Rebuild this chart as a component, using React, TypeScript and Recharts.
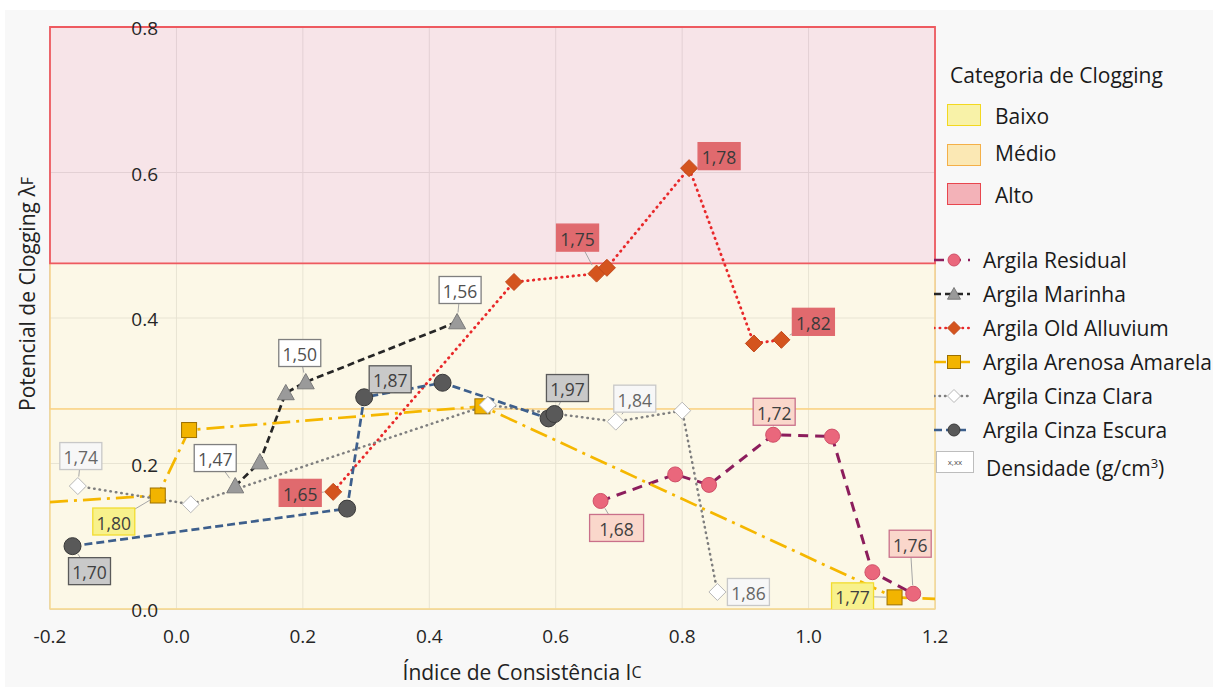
import React from 'react';
import { ComposedChart, Line, XAxis, YAxis, CartesianGrid, ReferenceArea } from 'recharts';

const FONT = '"Open Sans", "Noto Sans", sans-serif';
const W = 1213;
const H = 687;

const xTicks = [-0.2, 0, 0.2, 0.4, 0.6, 0.8, 1.0, 1.2];
const yTicks = [0, 0.2, 0.4, 0.6, 0.8];

// clogging categories (bands)
const categoryNames = ['Baixo', 'Médio', 'Alto'];
const categoryFrom = [0, 0.275, 0.475];
const categoryTo = [0.275, 0.475, 0.8];

// Argila Residual
const residualX = [0.671, 0.789, 0.8425, 0.944, 1.037, 1.101, 1.1655];
const residualY = [0.1485, 0.185, 0.1706, 0.2395, 0.237, 0.0506, 0.021];
const residualDens = ['1,68', null, null, '1,72', null, null, '1,76'];

// Argila Marinha
const marinhaX = [0.093, 0.132, 0.173, 0.2046, 0.444];
const marinhaY = [0.169, 0.202, 0.297, 0.312, 0.3945];
const marinhaDens = ['1,47', null, null, '1,50', '1,56'];

// Argila Old Alluvium
const alluviumX = [0.248, 0.534, 0.6646, 0.681, 0.811, 0.9135, 0.957];
const alluviumY = [0.161, 0.4495, 0.461, 0.469, 0.606, 0.365, 0.37];
const alluviumDens = ['1,65', null, '1,75', null, '1,78', null, '1,82'];

// Argila Arenosa Amarela (line runs to both plot edges)
const arenosaX = [-0.2, -0.0295, 0.02, 0.484, 1.136, 1.2];
const arenosaY = [0.147, 0.156, 0.246, 0.2786, 0.016, 0.014];
const arenosaDens = [null, '1,80', null, null, '1,77', null];

// Argila Cinza Clara
const claraX = [-0.156, 0.0226, 0.4926, 0.695, 0.8, 0.8558];
const claraY = [0.169, 0.144, 0.2805, 0.2575, 0.2726, 0.0234];
const claraDens = ['1,74', null, null, '1,84', null, '1,86'];

// Argila Cinza Escura
const escuraX = [-0.1644, 0.27, 0.297, 0.421, 0.5887, 0.598];
const escuraY = [0.0864, 0.138, 0.291, 0.311, 0.262, 0.268];
const escuraDens = ['1,70', null, '1,87', null, null, '1,97'];

// label box offsets from the point, in px: [dx, dy, width]
const residualOff = [[16, 27, 54], null, null, [1, -23], null, null, [-3, -50]];
const marinhaOff = [[-20, -28], null, null, [-6, -29], [3, -32]];
const alluviumOff = [[-33, 1], null, [-19, -36], null, [30, -12], null, [32, -18]];
const arenosaOff = [null, [-44, 26], null, null, [-42, -1], null];
const claraOff = [[3, -30], null, null, [19, -23], null, [31, 0]];
const escuraOff = [[17, 25], null, [26, -18], null, null, [13, -26]];

type Kind = 'circle' | 'triangle' | 'diamond' | 'square';

const zip = (xs: number[], ys: number[]) => xs.map((x, i) => ({ x, y: ys[i] }));

const series = [
  {
    name: 'Argila Residual', data: zip(residualX, residualY), dens: residualDens, off: residualOff,
    line: '#8c1d5c', dash: '10 7', cap: 'butt', width: 3, kind: 'circle' as Kind, size: 7.5,
    fill: '#ea677c', stroke: '#cf4f68', boxFill: '#fad7cb', boxStroke: '#c9708a', text: '#404040',
  },
  {
    name: 'Argila Marinha', data: zip(marinhaX, marinhaY), dens: marinhaDens, off: marinhaOff,
    line: '#262626', dash: '7 4', cap: 'butt', width: 2.7, kind: 'triangle' as Kind, size: 8.5,
    fill: '#9a9a9a', stroke: '#7a7a7a', boxFill: '#ffffff', boxStroke: '#7f7f7f', text: '#505050',
  },
  {
    name: 'Argila Old Alluvium', data: zip(alluviumX, alluviumY), dens: alluviumDens, off: alluviumOff,
    line: '#e8282a', dash: '0.5 5.2', cap: 'round', width: 2.8, kind: 'diamond' as Kind, size: 8.5,
    fill: '#d4541e', stroke: '#c2471a', boxFill: '#e06a6e', boxStroke: '#e06a6e', text: '#3a3a3a',
  },
  {
    name: 'Argila Arenosa Amarela', data: zip(arenosaX, arenosaY), dens: arenosaDens, off: arenosaOff,
    line: '#f5b700', dash: '18 6 3 6', cap: 'butt', width: 2.7, kind: 'square' as Kind, size: 7.5,
    fill: '#f2b400', stroke: '#9c7000', boxFill: '#f8f18c', boxStroke: '#f2dc30', text: '#404040',
  },
  {
    name: 'Argila Cinza Clara', data: zip(claraX, claraY), dens: claraDens, off: claraOff,
    line: '#7f7f7f', dash: '0.5 5', cap: 'round', width: 2.5, kind: 'diamond' as Kind, size: 8.5,
    fill: '#ffffff', stroke: '#b8b8b8', boxFill: '#f7f7f7', boxStroke: '#c8c8c8', text: '#666666',
  },
  {
    name: 'Argila Cinza Escura', data: zip(escuraX, escuraY), dens: escuraDens, off: escuraOff,
    line: '#3d5f8c', dash: '8 4', cap: 'butt', width: 2.7, kind: 'circle' as Kind, size: 8.5,
    fill: '#595959', stroke: '#3a3a3a', boxFill: '#c9c9c9', boxStroke: '#5a5a5a', text: '#404040',
  },
];

type S = typeof series[number];

function markerShape(kind: Kind, cx: number, cy: number, size: number, fill: string, stroke: string) {
  if (kind === 'circle') return <circle cx={cx} cy={cy} r={size} fill={fill} stroke={stroke} strokeWidth={1} />;
  if (kind === 'triangle')
    return (
      <polygon
        points={`${cx},${cy - size} ${cx + size},${cy + size * 0.8} ${cx - size},${cy + size * 0.8}`}
        fill={fill} stroke={stroke} strokeWidth={1}
      />
    );
  if (kind === 'diamond')
    return (
      <polygon
        points={`${cx},${cy - size} ${cx + size},${cy} ${cx},${cy + size} ${cx - size},${cy}`}
        fill={fill} stroke={stroke} strokeWidth={1}
      />
    );
  return <rect x={cx - size} y={cy - size} width={size * 2} height={size * 2} fill={fill} stroke={stroke} strokeWidth={1} />;
}

function makeDot(s: S) {
  return (props: any) => {
    const { cx, cy, index, payload } = props;
    const key = `dot-${s.name}-${index}`;
    if (cx == null || cy == null) return <g key={key} />;
    // edge points only carry the line to the frame
    if (payload.x <= xTicks[0] || payload.x >= xTicks[xTicks.length - 1]) return <g key={key} />;
    const label = s.dens[index];
    const off = s.off[index] as number[] | null;
    let lbl = null;
    if (label && off) {
      const bx = cx + off[0];
      const by = cy + off[1];
      const bw = off[2] || 42;
      const d = Math.hypot(off[0], off[1]) || 1;
      const sx = cx + (off[0] / d) * (s.size + 1);
      const sy = cy + (off[1] / d) * (s.size + 1);
      lbl = (
        <g>
          <line x1={sx} y1={sy} x2={bx} y2={by} stroke="#a6a6a6" strokeWidth={1} />
          <rect x={bx - bw / 2} y={by - 13.5} width={bw} height={27} fill={s.boxFill} stroke={s.boxStroke} strokeWidth={1.3} />
          <text x={bx} y={by + 1} textAnchor="middle" dominantBaseline="central" fontFamily={FONT} fontSize={17.5} fill={s.text}>
            {label}
          </text>
        </g>
      );
    }
    return (
      <g key={key}>
        {markerShape(s.kind, cx, cy, s.size, s.fill, s.stroke)}
        {lbl}
      </g>
    );
  };
}

const renderXTick = (props: any) => {
  const { x, payload, index } = props;
  return (
    <text key={`xt-${index}`} x={x} y={636} textAnchor="middle" dominantBaseline="central" fontFamily={FONT} fontSize={19} fill="#262626">
      {Number(payload.value).toFixed(1)}
    </text>
  );
};

const renderYTick = (props: any) => {
  const { y, payload, index } = props;
  return (
    <text key={`yt-${index}`} x={158} y={y + 1} textAnchor="end" dominantBaseline="central" fontFamily={FONT} fontSize={19} fill="#262626">
      {Number(payload.value).toFixed(1)}
    </text>
  );
};

// bands are translucent so the grid shows through them
const bandStyle = [
  { fill: '#fdf8e0', stroke: '#f9d98a', swFill: '#f8f2a8', swStroke: '#f3d820' },
  { fill: '#fdf8e0', stroke: '#f9cf80', swFill: '#fbe8b4', swStroke: '#f4b048' },
  { fill: '#f7dbe1', stroke: '#ee5a60', swFill: '#f3b2b8', swStroke: '#e8464e' },
];

const LEG = 21;

function Legend() {
  const rowTop = (c: number) => c - 14;
  return (
    <div style={{ position: 'absolute', left: 0, top: 0, width: W, height: H, pointerEvents: 'none', fontFamily: FONT, color: '#1a1a1a' }}>
      <div style={{ position: 'absolute', left: 950, top: rowTop(75), fontSize: LEG, lineHeight: '28px', whiteSpace: 'nowrap' }}>
        Categoria de Clogging
      </div>
      {categoryNames.map((n, i) => (
        <div key={n}>
          <div
            style={{
              position: 'absolute', left: 947, top: [104, 144, 183][i], width: 34, height: 22,
              background: bandStyle[i].swFill, border: `1.5px solid ${bandStyle[i].swStroke}`, boxSizing: 'border-box',
            }}
          />
          <div style={{ position: 'absolute', left: 995, top: rowTop([116, 153, 195][i]), fontSize: LEG, lineHeight: '28px' }}>{n}</div>
        </div>
      ))}
      {series.map((s, i) => (
        <div key={s.name}>
          <svg style={{ position: 'absolute', left: 934, top: 250 + i * 34 }} width={40} height={20}>
            <line
              x1={0} y1={10} x2={36} y2={10} stroke={s.line} strokeWidth={2.5} strokeLinecap={s.cap as any}
              strokeDasharray={s.dash === '18 6 3 6' ? '12 6 2 6' : s.dash}
            />
            {markerShape(s.kind, 20, 10, s.kind === 'circle' ? 6 : 6.5, s.fill, s.stroke)}
          </svg>
          <div style={{ position: 'absolute', left: 983, top: rowTop(260 + i * 34), fontSize: LEG, lineHeight: '28px', whiteSpace: 'nowrap' }}>
            {s.name}
          </div>
        </div>
      ))}
      <div
        style={{
          position: 'absolute', left: 936, top: 451, width: 38, height: 22, border: '1px solid #bdbdbd', background: '#fff',
          boxSizing: 'border-box', fontSize: 8, lineHeight: '20px', textAlign: 'center', color: '#555',
        }}
      >
        x,xx
      </div>
      <div style={{ position: 'absolute', left: 986, top: rowTop(463), fontSize: LEG, lineHeight: '28px', whiteSpace: 'nowrap' }}>
        Densidade (g/cm<sup style={{ fontSize: 13 }}>3</sup>)
      </div>
    </div>
  );
}

export default function App() {
  return (
    <div style={{ position: 'absolute', left: 0, top: 0, width: W, height: H, background: '#ffffff', overflow: 'hidden' }}>
      <div style={{ position: 'absolute', left: 5, top: 10, right: 0, bottom: 0, background: '#f8f8f8' }} />
      <div style={{ position: 'absolute', left: 0, top: 0 }}>
        <ComposedChart width={W} height={H} margin={{ top: 27, right: 278, bottom: 48, left: 49 }}>
          <XAxis
            type="number" dataKey="x" domain={[-0.2, 1.2]} ticks={xTicks} height={30} interval={0}
            axisLine={false} tickLine={false} tick={renderXTick} allowDataOverflow
          />
          <YAxis
            type="number" dataKey="y" domain={[0, 0.8]} ticks={yTicks} width={1} interval={0}
            axisLine={false} tickLine={false} tick={renderYTick} allowDataOverflow
          />
          <CartesianGrid stroke="#b4b4b4" strokeWidth={1} />
          {categoryNames.map((n, i) => (
            <ReferenceArea
              key={n} x1={-0.2} x2={1.2} y1={categoryFrom[i]} y2={categoryTo[i]}
              fill={bandStyle[i].fill} fillOpacity={0.7} stroke={bandStyle[i].stroke} strokeWidth={i === 2 ? 1.8 : 1.3}
            />
          ))}
          {series.map((s) => (
            <Line
              key={s.name} name={s.name} data={s.data} dataKey="y" type="linear"
              stroke={s.line} strokeWidth={s.width} strokeDasharray={s.dash} strokeLinecap={s.cap as any}
              dot={makeDot(s)} activeDot={false} isAnimationActive={false}
            />
          ))}
          <text x={522} y={672} textAnchor="middle" dominantBaseline="central" fontFamily={FONT} fontSize={21} fill="#222">
            Índice de Consistência I<tspan fontSize={16}>C</tspan>
          </text>
          <text
            x={27} y={294} transform="rotate(-90 27 294)" textAnchor="middle" dominantBaseline="central"
            fontFamily={FONT} fontSize={21} fill="#222"
          >
            Potencial de Clogging λ<tspan fontSize={16}>F</tspan>
          </text>
        </ComposedChart>
      </div>
      <Legend />
    </div>
  );
}
